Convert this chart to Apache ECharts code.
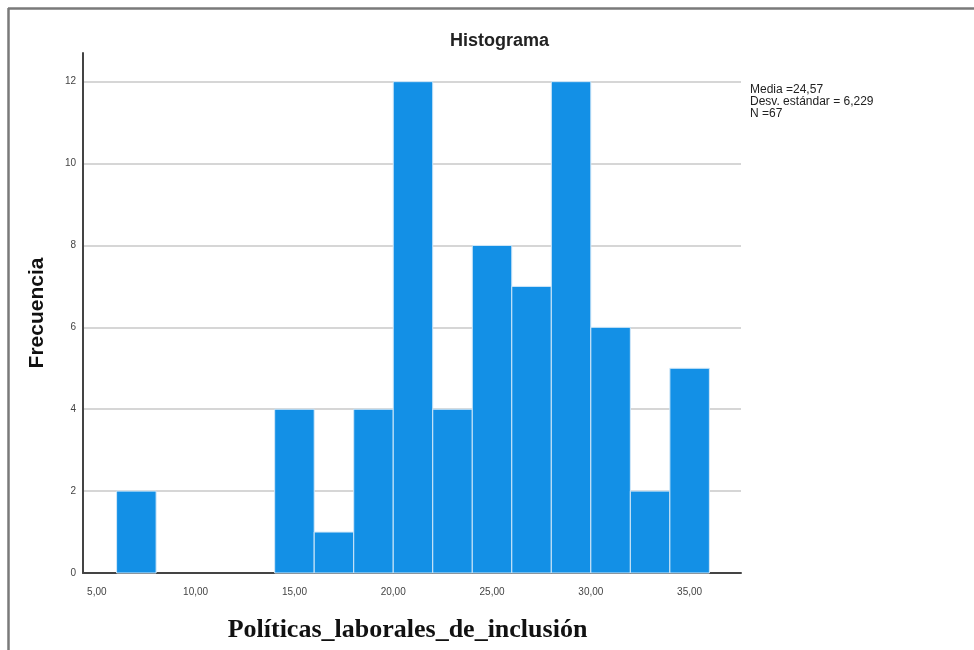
<!DOCTYPE html>
<html><head><meta charset="utf-8">
<script src="https://cdn.jsdelivr.net/npm/echarts@6/dist/echarts.min.js"></script>
<style>html,body{margin:0;padding:0;background:#fff}#c{width:974px;height:650px}</style>
</head><body><div id="c"></div>
<script>
const binStarts = [6, 14, 16, 18, 20, 22, 24, 26, 28, 30, 32, 34];
const binWidth = 2;
const counts = [2, 4, 1, 4, 12, 4, 8, 7, 12, 6, 2, 5];
const xTicks = [5, 10, 15, 20, 25, 30, 35];
const yTicks = [0, 2, 4, 6, 8, 10, 12];
const statsLines = ['Media =24,57', 'Desv. estándar = 6,229', 'N =67'];
const titleText = 'Histograma';
const xName = 'Políticas_laborales_de_inclusión';
const yName = 'Frecuencia';

const data = binStarts.map((s, i) => [s, s + binWidth, counts[i]]);

const chart = echarts.init(document.getElementById('c'), null, {renderer: 'canvas'});
chart.setOption({
  backgroundColor: '#fff',
  animation: false,
  title: {
    text: titleText, left: 445, top: 27,
    textStyle: {fontFamily: 'Liberation Sans', fontWeight: 'bold', fontSize: 18, color: '#222'}
  },
  grid: {left: 83, right: 233, top: 53, bottom: 77, containLabel: false, outerBoundsMode: 'none'},
  xAxis: {
    type: 'value', min: 4.3, max: 37.6,
    name: xName, nameLocation: 'middle', nameGap: 44,
    nameTextStyle: {fontFamily: 'Liberation Serif', fontWeight: 'bold', fontSize: 26, color: '#111', padding: [0, 9, 0, 0]},
    axisLine: {show: true, onZero: false, lineStyle: {color: '#444', width: 2}},
    axisTick: {show: false, customValues: xTicks},
    splitLine: {show: false},
    axisLabel: {
      customValues: xTicks, margin: 14, color: '#444',
      fontFamily: 'Liberation Sans', fontSize: 10,
      formatter: v => v.toFixed(2).replace('.', ',')
    }
  },
  yAxis: {
    type: 'value', min: 0, max: 12.7,
    name: yName, nameLocation: 'middle', nameGap: 35, nameRotate: 90,
    nameTextStyle: {fontFamily: 'Liberation Sans', fontWeight: 'bold', fontSize: 21, color: '#111'},
    axisLine: {show: true, lineStyle: {color: '#444', width: 2}},
    axisTick: {show: false, customValues: yTicks},
    splitLine: {show: true, lineStyle: {color: '#c8c8c8', width: 1.5}},
    axisLabel: {
      customValues: yTicks, margin: 7, color: '#444',
      fontFamily: 'Liberation Sans', fontSize: 10
    }
  },
  series: [{
    type: 'custom',
    encode: {x: [0, 1], y: 2},
    data: data,
    renderItem: (params, api) => {
      const s = api.value(0), e = api.value(1), v = api.value(2);
      const p0 = api.coord([s, 0]);
      const p1 = api.coord([e, v]);
      return {
        type: 'rect',
        shape: {x: p0[0], y: p1[1], width: p1[0] - p0[0], height: p0[1] - p1[1]},
        style: {fill: '#1390e6', stroke: '#d2e8f8', lineWidth: 1}
      };
    }
  }],
  graphic: [
    {type: 'line', shape: {x1: 8, y1: 8.5, x2: 974, y2: 8.5}, style: {stroke: '#7a7a7a', lineWidth: 2.5}},
    {type: 'line', shape: {x1: 8.5, y1: 8, x2: 8.5, y2: 650}, style: {stroke: '#7a7a7a', lineWidth: 2.5}},
    {type: 'text', left: 750, top: 84,
     style: {text: statsLines.join('\n'), font: '12px "Liberation Sans"', lineHeight: 12, fill: '#222'}}
  ]
});
</script>
</body></html>
